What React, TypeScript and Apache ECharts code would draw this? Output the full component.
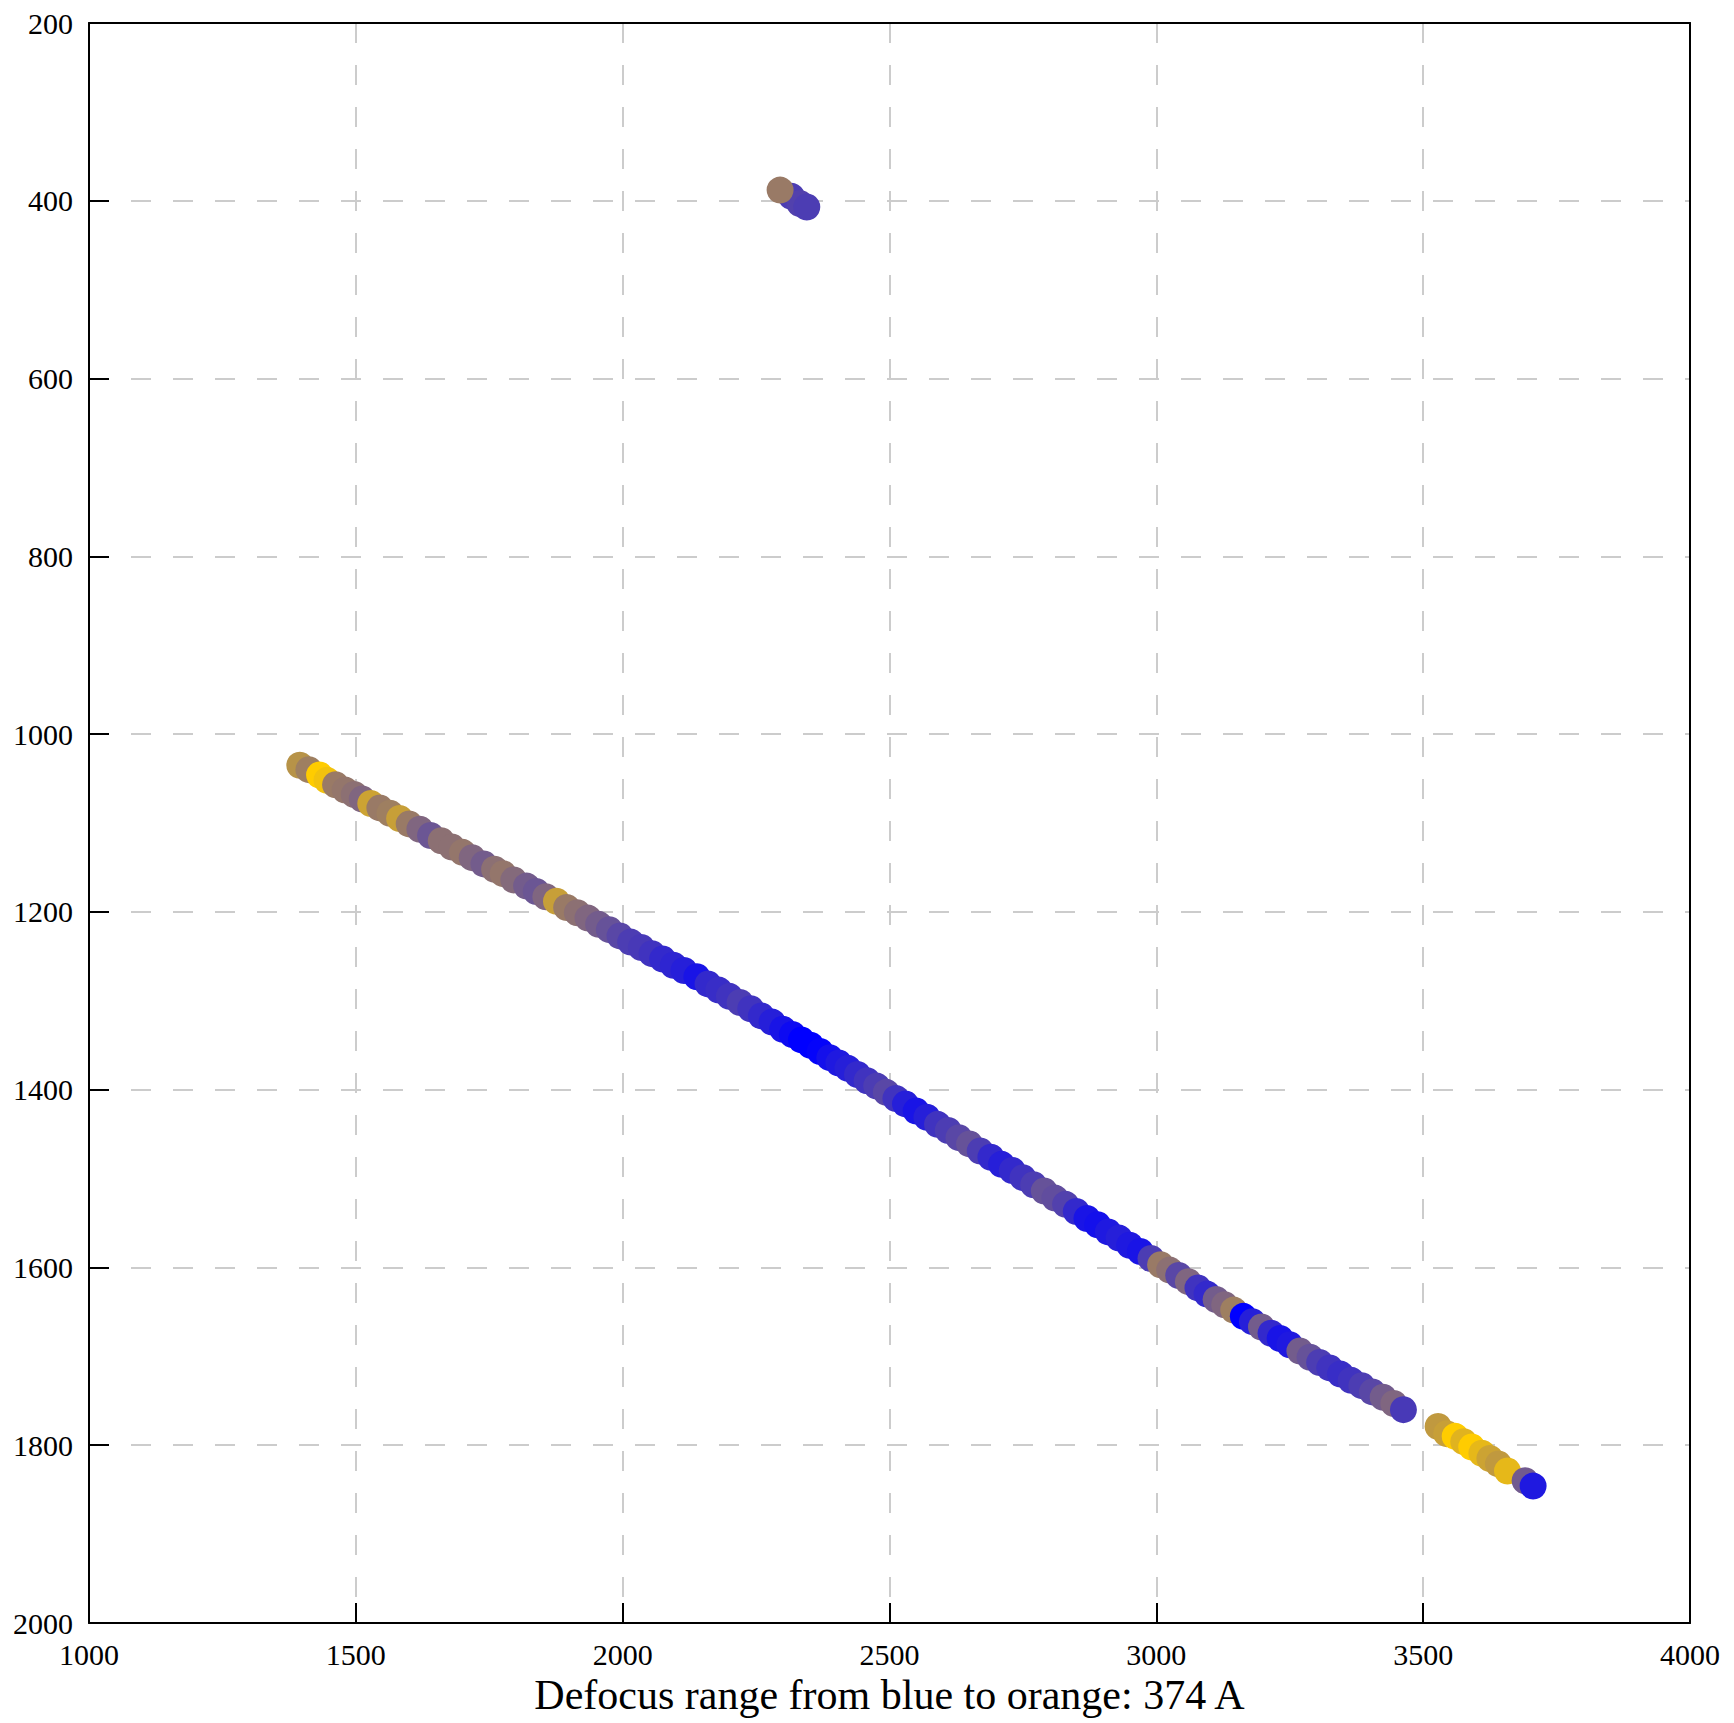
import React, { useEffect, useRef } from "react";
import * as echarts from "echarts";

// Main track of points: x, y, defocus offset (Å above the minimum of the 374 Å range)
const mainX = [
  1395, 1412, 1432, 1446, 1462, 1480, 1497, 1512, 1528, 1545, 1564, 1582, 1600, 1620, 1640, 1660, 1680, 1700, 1718, 1740,
  1760, 1776, 1796, 1820, 1838, 1856, 1876, 1895, 1915, 1935, 1955, 1975, 1995, 2015, 2035, 2055, 2075, 2095, 2115, 2139,
  2160, 2180, 2200, 2220, 2240, 2260, 2280, 2300, 2318, 2335, 2352, 2370, 2388, 2405, 2422, 2440, 2458, 2476, 2494, 2512,
  2530, 2550, 2570, 2590, 2610, 2630, 2650, 2670, 2690, 2710, 2730, 2750, 2770, 2790, 2810, 2830, 2850, 2870, 2890, 2910,
  2930, 2950, 2970, 2990, 3008, 3025, 3042, 3060, 3078, 3095, 3112, 3128, 3145, 3163, 3180, 3197, 3215, 3232, 3250, 3269,
  3288, 3306, 3325, 3345, 3365, 3385, 3405, 3425, 3445, 3463,
];
const mainY = [
  1035, 1040, 1046, 1052, 1057, 1063, 1068, 1073, 1078, 1083, 1089, 1095, 1101, 1107, 1114, 1120, 1127, 1133, 1139, 1146,
  1152, 1157, 1164, 1171, 1177, 1183, 1188, 1195, 1201, 1207, 1214, 1220, 1227, 1234, 1240, 1247, 1253, 1260, 1266, 1273,
  1281, 1288, 1295, 1302, 1309, 1317, 1324, 1332, 1338, 1344, 1350, 1357, 1364, 1370, 1376, 1383, 1390, 1396, 1403, 1410,
  1416, 1424, 1431, 1439, 1446, 1454, 1461, 1469, 1476, 1484, 1491, 1499, 1507, 1514, 1522, 1529, 1537, 1545, 1552, 1560,
  1567, 1575, 1582, 1590, 1597, 1603, 1609, 1616, 1623, 1630, 1636, 1642, 1648, 1655, 1661, 1667, 1674, 1680, 1687, 1694,
  1701, 1707, 1713, 1720, 1727, 1733, 1740, 1746, 1753, 1760,
];
const mainDefocus = [
  269, 232, 374, 355, 224, 217, 206, 187, 299, 224, 232, 292, 224, 187, 157, 206, 206, 217, 187, 168,
  206, 217, 194, 168, 157, 187, 292, 224, 206, 187, 168, 150, 131, 112, 105, 94, 75, 67, 56, 37,
  75, 82, 94, 112, 94, 75, 56, 37, 19, 0, 0, 7, 30, 45, 56, 75, 94, 112, 131, 94,
  56, 37, 56, 94, 112, 131, 150, 112, 75, 56, 75, 94, 112, 150, 142, 120, 75, 37, 30, 45,
  56, 45, 37, 112, 224, 206, 131, 187, 94, 75, 168, 187, 232, 0, 56, 168, 75, 37, 45, 168,
  150, 112, 94, 82, 94, 112, 131, 168, 187, 105,
];

// Lower-right group
const tailX = [3528, 3544, 3560, 3576, 3591, 3610, 3625, 3641, 3658, 3691, 3706];
const tailY = [1779, 1787, 1790, 1796, 1802, 1809, 1815, 1821, 1829, 1840, 1846];
const tailDefocus = [281, 292, 374, 329, 374, 337, 299, 281, 337, 165, 45];

// Isolated group near the top
const topX = [2316, 2332, 2345, 2295];
const topY = [395, 403, 407, 388];
const topDefocus = [112, 120, 112, 224];

const defocusRange = 374;

const xTicks = { min: 1000, max: 4000, interval: 500 };
const yTicks = { min: 200, max: 2000, interval: 200 };

const FONT = "Liberation Serif";

function build(xs: number[], ys: number[], ds: number[]) {
  return xs.map((x, i) => [x, ys[i], ds[i]]);
}

const plain = (v: number) => String(v);

export default function App() {
  const ref = useRef<HTMLDivElement>(null);
  useEffect(() => {
    if (!ref.current) return;
    const chart = echarts.init(ref.current, null, { renderer: "svg" });
    const data = [
      ...build(mainX, mainY, mainDefocus),
      ...build(tailX, tailY, tailDefocus),
      ...build(topX, topY, topDefocus),
    ];
    const frameAxis = {
      axisLine: { show: true, onZero: false, lineStyle: { color: "#000", width: 2 } },
      axisTick: { show: false },
      axisLabel: { show: false },
      splitLine: { show: false },
    };
    const split = {
      show: true,
      showMinLine: false,
      showMaxLine: false,
      lineStyle: { color: "#cccccc", width: 2, type: [20, 22] },
    };
    chart.setOption({
      animation: false,
      backgroundColor: "#ffffff",
      grid: {
        left: 89,
        top: 23,
        width: 1601,
        height: 1600,
        show: false,
      },
      visualMap: {
        show: false,
        type: "continuous",
        dimension: 2,
        min: 0,
        max: defocusRange,
        inRange: { color: ["#0000ff", "#ffcc00"] },
      },
      xAxis: [
        {
          type: "value",
          position: "bottom",
          min: xTicks.min,
          max: xTicks.max,
          interval: xTicks.interval,
          name: "Defocus range from blue to orange: " + defocusRange + " A",
          nameLocation: "middle",
          nameGap: 45,
          nameTextStyle: { fontFamily: FONT, fontSize: 42, color: "#000", lineHeight: 42, verticalAlign: "top" },
          axisLine: { show: true, onZero: false, lineStyle: { color: "#000", width: 2 } },
          axisTick: { show: true, inside: true, length: 20, lineStyle: { color: "#000", width: 2 } },
          axisLabel: { fontFamily: FONT, fontSize: 30, color: "#000", margin: 16, formatter: plain },
          splitLine: split,
        },
        {
          type: "value",
          position: "top",
          min: xTicks.min,
          max: xTicks.max,
          interval: xTicks.interval,
          ...frameAxis,
        },
      ],
      yAxis: [
        {
          type: "value",
          position: "left",
          inverse: true,
          min: yTicks.min,
          max: yTicks.max,
          interval: yTicks.interval,
          axisLine: { show: true, onZero: false, lineStyle: { color: "#000", width: 2 } },
          axisTick: { show: true, inside: true, length: 20, lineStyle: { color: "#000", width: 2 } },
          axisLabel: { fontFamily: FONT, fontSize: 30, color: "#000", margin: 16, formatter: plain },
          splitLine: split,
        },
        {
          type: "value",
          position: "right",
          inverse: true,
          min: yTicks.min,
          max: yTicks.max,
          interval: yTicks.interval,
          ...frameAxis,
        },
      ],
      series: [
        {
          type: "scatter",
          xAxisIndex: 0,
          yAxisIndex: 0,
          data,
          symbol: "circle",
          symbolSize: 27,
          itemStyle: { opacity: 1 },
        },
      ],
    });
    return () => chart.dispose();
  }, []);
  return (
    <div
      ref={ref}
      style={{ position: "absolute", left: 0, top: 0, width: 1734, height: 1723, background: "#fff" }}
    />
  );
}
